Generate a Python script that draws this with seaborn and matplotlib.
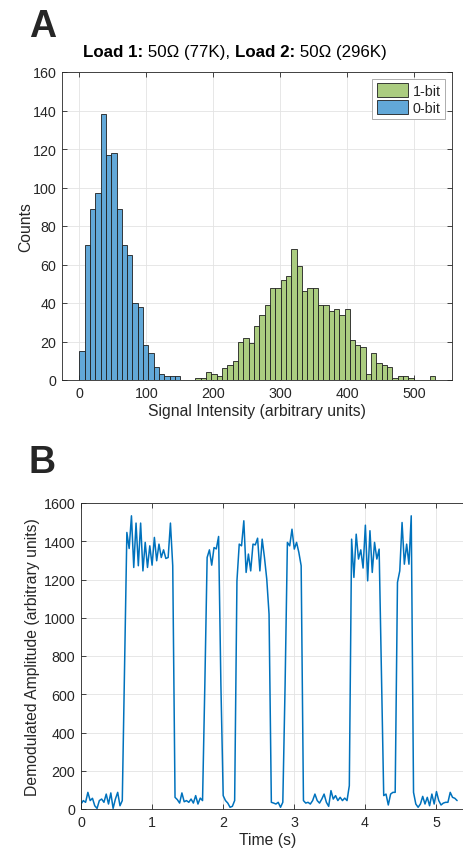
import numpy as np
import pandas as pd
import matplotlib
matplotlib.use("Agg")
import matplotlib.pyplot as plt
from matplotlib.patches import Patch
import seaborn as sns

# ---------------- data ----------------
# Panel A histogram: counts per bin
zero_bit_start = 0.0
zero_bit_width = 7.92
zero_bit_counts = [15, 70, 89, 97, 138, 117, 118, 89, 70, 65, 40, 38, 18, 14, 7, 3, 2, 2, 2]

one_bit_start = 173.0
one_bit_width = 7.95
one_bit_counts = [1, 1, 4, 3, 2, 6, 8, 10, 20, 22, 19, 28, 34, 39, 48, 48, 52, 54, 68, 59,
                  46, 48, 48, 39, 39, 36, 37, 34, 37, 21, 18, 17, 3, 14, 9, 8, 7, 1, 2, 2,
                  1, 0, 0, 0, 2]

hist_xticks = [0, 100, 200, 300, 400, 500]
hist_yticks = [0, 20, 40, 60, 80, 100, 120, 140, 160]

# Panel B time trace
sample_dt = 0.0323  # seconds between samples
amplitude = [
    26, 44, 35, 87, 44, 56, 17, 3, 44, 52, 35, 78, 26, 84, 3, 52, 87, 17, 44,
    750,
    1446, 1362, 1533, 1263, 1495, 1272, 1495, 1245, 1394, 1263, 1376, 1275, 1420, 1298,
    1385, 1315, 1355, 1310, 1315, 1495, 1272,
    61, 49, 31, 84, 38, 44, 35, 52, 31, 70, 26, 57, 44,
    650,
    1315, 1355, 1275, 1367, 1360, 1425,
    650,
    70, 44, 31, 9, 14, 44,
    1193, 1385, 1376, 1507, 1237, 1333, 1245, 1385, 1381, 1416, 1245, 1411, 1315, 1202,
    1019,
    35, 31, 26, 35, 9, 35,
    650,
    1394, 1376, 1463, 1359, 1394, 1341, 1272,
    44, 31, 35, 26, 44, 78, 44, 31, 52, 78, 35, 14, 96, 52, 70, 44, 61, 44, 57, 44, 122,
    1411, 1211, 1437, 1307, 1355, 1260, 1484, 1193, 1455, 1237, 1394, 1307, 1359,
    700,
    70, 78, 21, 78, 87, 87,
    1185, 1245, 1498, 1280, 1385, 1280, 1533,
    87, 26, 9, 26, 66, 26, 61, 17, 78, 26, 91, 44, 21, 31, 35, 35, 87, 61, 56, 44,
]
trace_xticks = [0, 1, 2, 3, 4, 5]
trace_yticks = [0, 200, 400, 600, 800, 1000, 1200, 1400, 1600]

title_parts = [("Load 1:", "bold"), (" 50Ω (77K), ", "normal"),
               ("Load 2:", "bold"), (" 50Ω (296K)", "normal")]

# ---------------- style ----------------
sns.set_theme(style="whitegrid")
plt.rcParams["font.family"] = ["Liberation Sans", "DejaVu Sans"]

W, H = 464, 854
fig = plt.figure(figsize=(W / 100, H / 100), dpi=100)
fig.patch.set_facecolor("white")
renderer = fig.canvas.get_renderer()


def rect(l, t, r, b):
    return [l / W, 1 - b / H, (r - l) / W, (b - t) / H]


def style_axes(ax):
    ax.set_facecolor("white")
    for s in ax.spines.values():
        s.set_visible(True)
        s.set_color("#262626")
        s.set_linewidth(0.6)
    ax.grid(True, color="#e3e3e3", linewidth=0.6)
    ax.set_axisbelow(True)
    ax.tick_params(direction="in", length=3.5, width=0.6, color="#262626",
                   labelsize=10.3, labelcolor="#262626", top=True, right=True,
                   bottom=True, left=True, pad=4)


BLUE_FACE = "#62A8D8"
GREEN_FACE = "#ABCC80"
EDGE = "#1e1e1e"
LABEL_SIZE = 11.3

# ---------------- Panel A ----------------
ax1 = fig.add_axes(rect(62, 73, 452, 381))
z_edges = [float(e) for e in zero_bit_start + zero_bit_width * np.arange(len(zero_bit_counts) + 1)]
o_edges = [float(e) for e in one_bit_start + one_bit_width * np.arange(len(one_bit_counts) + 1)]
z_df = pd.DataFrame({
    "intensity": [(a + b) / 2 for a, b in zip(z_edges[:-1], z_edges[1:])],
    "count": zero_bit_counts,
})
o_df = pd.DataFrame({
    "intensity": [(a + b) / 2 for a, b in zip(o_edges[:-1], o_edges[1:])],
    "count": one_bit_counts,
})

sns.histplot(data=z_df, x="intensity", weights="count", bins=z_edges, ax=ax1,
             color=BLUE_FACE, alpha=1, edgecolor=EDGE, linewidth=0.6)
sns.histplot(data=o_df, x="intensity", weights="count", bins=o_edges, ax=ax1,
             color=GREEN_FACE, alpha=1, edgecolor=EDGE, linewidth=0.6)
style_axes(ax1)
ax1.set_xlim(-26, 556)
ax1.set_ylim(0, 160)
ax1.set_xticks(hist_xticks)
ax1.set_yticks(hist_yticks)
ax1.set_xlabel("Signal Intensity (arbitrary units)", fontsize=LABEL_SIZE, color="#262626")
ax1.xaxis.set_label_coords(0.5, -0.074)
ax1.set_ylabel("Counts", fontsize=LABEL_SIZE, color="#262626")
ax1.yaxis.set_label_coords((33 - 62) / 390, 0.5)

handles = [Patch(facecolor=GREEN_FACE, edgecolor=EDGE, linewidth=0.6, label="1-bit"),
           Patch(facecolor=BLUE_FACE, edgecolor=EDGE, linewidth=0.6, label="0-bit")]
leg = ax1.legend(handles=handles, loc="upper right", fontsize=10.3, frameon=True,
                 fancybox=False, framealpha=1, edgecolor="#a0a0a0",
                 handlelength=2.2, handleheight=1.1, handletextpad=0.3,
                 labelspacing=0.15, borderpad=0.3, borderaxespad=0.5)
leg.get_frame().set_linewidth(0.6)

# Title built from bold / regular pieces, centred at x = 234.5 px
title_size = 12.2
pieces = []
for txt, wt in title_parts:
    t = fig.text(0, 1 - 57 / H, txt, fontsize=title_size, fontweight=wt,
                 va="baseline", ha="left", color="black")
    pieces.append(t)
widths = [p.get_window_extent(renderer=renderer).width for p in pieces]
x_px = 234.5 - sum(widths) / 2
for p, w in zip(pieces, widths):
    p.set_x(x_px / W)
    x_px += w

fig.text(29 / W, 1 - 37 / H, "A", fontsize=27, fontweight="bold", va="baseline", ha="left")

# ---------------- Panel B ----------------
ax2 = fig.add_axes(rect(81, 504, 471.5, 810))
trace_df = pd.DataFrame({
    "time": sample_dt * np.arange(len(amplitude)),
    "amplitude": amplitude,
})
sns.lineplot(data=trace_df, x="time", y="amplitude", ax=ax2, color="#0072BD",
             linewidth=1.1, estimator=None, sort=False)
style_axes(ax2)
ax2.set_xlim(0, 5.5)
ax2.set_ylim(0, 1600)
ax2.set_xticks(trace_xticks)
ax2.set_yticks(trace_yticks)
ax2.set_xlabel("Time (s)", fontsize=LABEL_SIZE, color="#262626")
ax2.xaxis.set_label_coords((268 - 81) / (471.5 - 81), -0.076)
ax2.set_ylabel("Demodulated Amplitude (arbitrary units)", fontsize=LABEL_SIZE, color="#262626")
ax2.yaxis.set_label_coords((40 - 81) / 390.5, 0.5)
fig.text(29 / W, 1 - 473 / H, "B", fontsize=27, fontweight="bold", va="baseline", ha="left")

fig.savefig("out.png", dpi=100, facecolor="white")
